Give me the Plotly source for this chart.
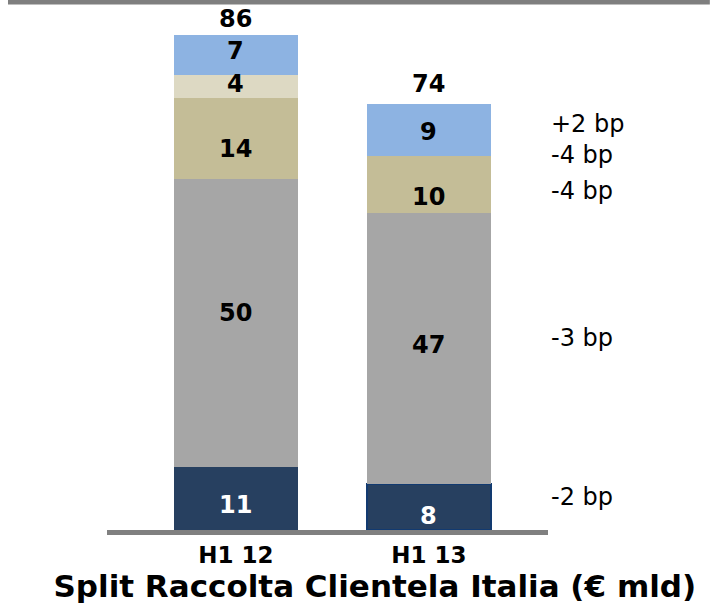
import plotly.graph_objects as go

# data
periods = ["H1 12", "H1 13"]
segments = ["Navy", "Gray", "Khaki", "Beige", "Blue"]
values = {
    "Navy": [11, 8],
    "Gray": [50, 47],
    "Khaki": [14, 10],
    "Beige": [4, 0],
    "Blue": [7, 9],
}
totals = [86, 74]
bp_changes = ["-2 bp", "-3 bp", "-4 bp", "-4 bp", "+2 bp"]

colors = {
    "Navy": "#274060",
    "Gray": "#a6a6a6",
    "Khaki": "#c4bd97",
    "Beige": "#ddd9c3",
    "Blue": "#8db3e2",
}
label_colors = {"Navy": "white"}
FONT = "DejaVu Sans"

fig = go.Figure()
for seg in segments:
    line_col = ["rgba(0,0,0,0)", "#123a70"] if seg == "Navy" else "rgba(0,0,0,0)"
    line_w = [0, 2] if seg == "Navy" else 0
    fig.add_trace(go.Bar(
        x=periods, y=values[seg], name=seg,
        marker=dict(color=colors[seg], line=dict(color=line_col, width=line_w)),
        width=0.643, hoverinfo="skip",
    ))

# labels inside segments, derived from cumulative values
label_shift = {"Navy": [-7, -9], "Gray": [10, 4], "Khaki": [-11, -13], "Beige": [3, 0], "Blue": [4, -2]}
bp_shift = [10, 11, -7, 1, 6]
total_shift = [0, 4]
cum = [0, 0]
for k, seg in enumerate(segments):
    for i, p in enumerate(periods):
        v = values[seg][i]
        mid = cum[i] + v / 2
        if v > 0:
            fig.add_annotation(
                x=p, y=mid, text=str(v), showarrow=False,
                yshift=label_shift[seg][i],
                font=dict(family=FONT, size=24, color=label_colors.get(seg, "black"), weight="bold"),
            )
        if i == 1:
            fig.add_annotation(
                x=1, xref="paper", xanchor="left", xshift=1,
                y=mid, yref="y", text=bp_changes[k], showarrow=False,
                yshift=bp_shift[k],
                font=dict(family=FONT, size=24, color="black"),
            )
        cum[i] += v

for i, (p, t) in enumerate(zip(periods, totals)):
    fig.add_annotation(
        x=p, y=t, text=str(t), showarrow=False, yanchor="bottom", yshift=total_shift[i],
        font=dict(family=FONT, size=24, color="black", weight="bold"),
    )

# top rule
fig.add_shape(type="line", xref="paper", yref="paper",
              x0=-0.2245, x1=1.367, y0=1.0154, y1=1.0154,
              line=dict(color="#7f7f7f", width=5))

fig.update_layout(
    barmode="stack",
    width=714, height=603,
    margin=dict(l=107, r=166, t=10, b=73),
    plot_bgcolor="white", paper_bgcolor="white",
    showlegend=False,
    title=dict(text="<b>Split Raccolta Clientela Italia (€ mld)</b>",
               x=0.525, xanchor="center", y=0.028, yanchor="middle",
               font=dict(family=FONT, size=31, color="black")),
    xaxis=dict(range=[-0.668, 1.617], showline=True, linecolor="#808080", linewidth=5,
               ticks="", showgrid=False,
               tickfont=dict(family=FONT, size=23, color="black", weight="bold")),
    yaxis=dict(range=[0, 90.3], visible=False),
)

fig.write_html("out.html", config={"displayModeBar": False},
               post_script="document.body.style.margin='0';")
